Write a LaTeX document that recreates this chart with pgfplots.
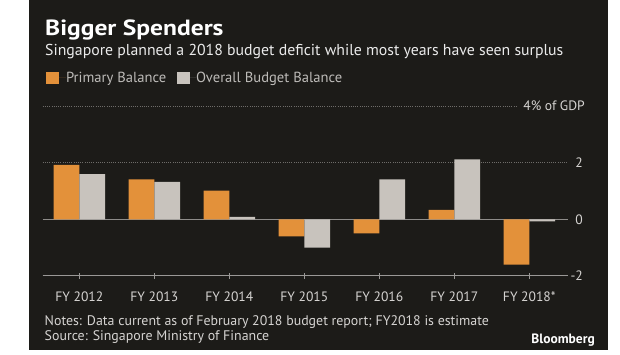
\documentclass[border=0pt]{standalone}
\usepackage{pgfplots}
\pgfplotsset{compat=1.18}
\usepackage{fontspec}
\setmainfont{PT Sans}
\definecolor{bg}{HTML}{1C1B18}
\definecolor{orangeC}{HTML}{E3913A}
\definecolor{grayC}{HTML}{C8C3BD}
\definecolor{gridC}{HTML}{6E6C69}
\definecolor{zeroC}{HTML}{8E8C89}
\definecolor{axisC}{HTML}{9A9896}
\definecolor{txtC}{HTML}{D6D4D2}
\definecolor{legC}{HTML}{BDBBB8}
\begin{document}
\begin{tikzpicture}[x=1pt,y=1pt]
\useasboundingbox (0,0) rectangle (620,355);
\fill[white] (0,0) rectangle (620,355);
\fill[bg] (29,5) rectangle (607.5,355);
\begin{axis}[
  at={(42.7pt,79.1pt)}, anchor=south west,
  scale only axis, width=525.3pt, height=169.8pt,
  xmin=-0.488, xmax=6.516, ymin=-2, ymax=4,
  clip=false,
  ybar=0pt, bar width=25.7pt,
  axis x line*=bottom, axis y line*=right,
  x axis line style={draw=axisC, line width=1pt, -},
  y axis line style={draw=none},
  xtick={0,...,6},
  xticklabels={FY 2012,FY 2013,FY 2014,FY 2015,FY 2016,FY 2017,FY 2018*},
  xtick style={draw=axisC, line width=0.8pt},
  major tick length=6pt,
  tick align=center,
  xticklabel style={font=\fontsize{13.6}{15}\selectfont, text=txtC, anchor=base, inner sep=0pt, yshift=-22.4pt},
  ytick={-2,2,4},
  yticklabels={-2,2,{}},
  ytick style={draw=none},
  yticklabel style={font=\fontsize{13.6}{15}\selectfont, text=txtC, anchor=east, inner sep=0pt, xshift=12pt},
  extra y ticks={0}, extra y tick labels={0},
  extra y tick style={ymajorgrids=true, major grid style={draw=zeroC, line width=1.5pt, solid}},
  ymajorgrids,
  grid style={draw=gridC, line width=0.9pt, dash pattern=on 1pt off 1.2pt},
  legend columns=2,
  legend style={at={(axis description cs:0.00628,1.1655)}, anchor=west, draw=none, fill=none,
    text=legC, font=\fontsize{14.6}{16}\selectfont, inner sep=0pt, outer sep=0pt,
    nodes={inner sep=0pt},
    /tikz/every even column/.append style={column sep=11pt}},
]
\addplot[fill=orangeC, draw=none,
  legend image code/.code={\fill[orangeC] (0pt,-6pt) rectangle (12.5pt,6pt); \path (0pt,0pt) -- (20pt,0pt);}]
  coordinates {(0,1.92) (1,1.41) (2,1.01) (3,-0.60) (4,-0.50) (5,0.33) (6,-1.60)};
\addlegendentry{Primary Balance}
\addplot[fill=grayC, draw=none,
  legend image code/.code={\fill[grayC] (0pt,-6pt) rectangle (12.5pt,6pt); \path (0pt,0pt) -- (19pt,0pt);}]
  coordinates {(0,1.60) (1,1.32) (2,0.09) (3,-1.00) (4,1.41) (5,2.12) (6,-0.07)};
\addlegendentry{Overall Budget Balance}
\node[anchor=east, fill=bg, inner xsep=5pt, inner ysep=1pt, font=\fontsize{13.6}{15}\selectfont, text=txtC, xshift=22pt] at (rel axis cs:1,1) {4\% of GDP};
\end{axis}
\node[anchor=base west, inner sep=0pt, font=\fontsize{22}{24}\selectfont\bfseries, text=white] at (45,319.3) {\scalebox{1.16}[1]{Bigger Spenders}};
\node[anchor=base west, inner sep=0pt, font=\fontsize{15.8}{17}\selectfont, text=white!92!black] at (45,299.3) {Singapore planned a 2018 budget deficit while most years have seen surplus};
\node[anchor=base west, inner sep=0pt, font=\fontsize{13.9}{15}\selectfont, text=txtC] at (44.5,29.3) {Notes: Data current as of February 2018 budget report; FY2018 is estimate};
\node[anchor=base west, inner sep=0pt, font=\fontsize{13.9}{15}\selectfont, text=txtC] at (44.5,14.5) {Source: Singapore Ministry of Finance};
\node[anchor=base east, inner sep=0pt, font=\fontsize{13.5}{15}\selectfont\bfseries, text=white] at (595,11.7) {Bloomberg};
\end{tikzpicture}
\end{document}
